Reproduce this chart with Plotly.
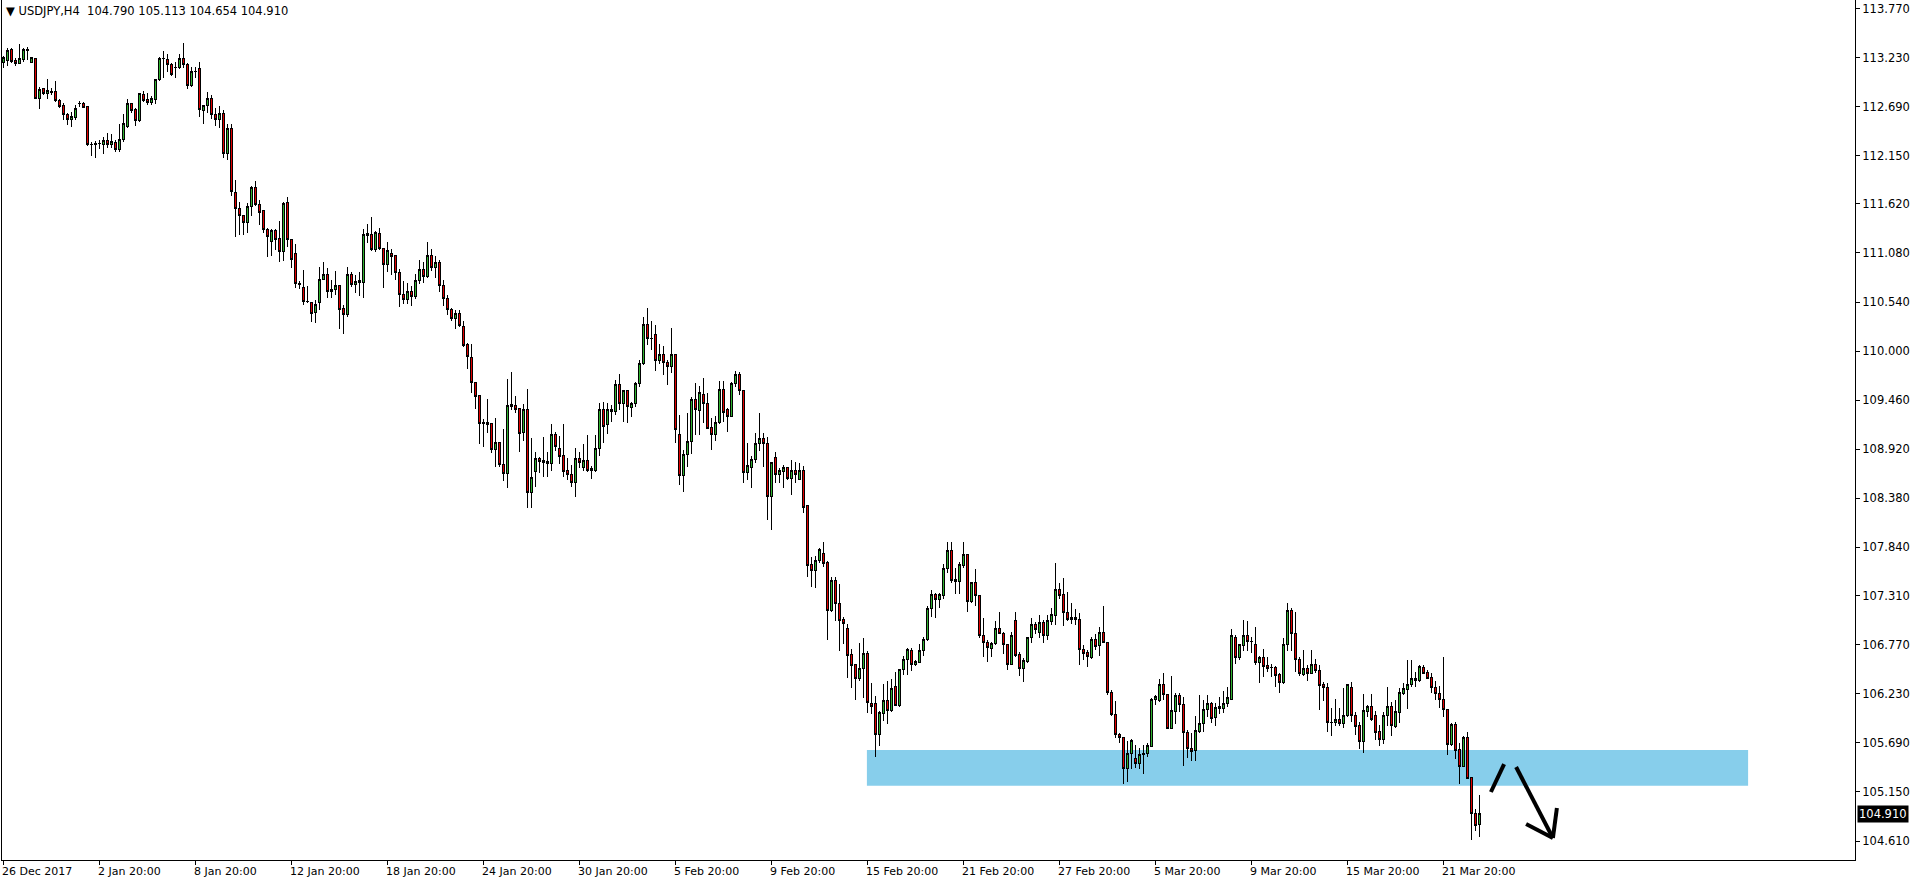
import plotly.graph_objects as go

symbol_text = "USDJPY,H4  104.790 105.113 104.654 104.910"
last_price = 104.910

opens = [
113.178,113.193,113.314,113.193,113.167,113.211,113.310,113.178,113.222,112.775,
112.888,112.837,112.862,112.855,112.753,112.698,112.606,112.551,112.569,112.720,
112.720,112.690,112.276,112.270,112.290,112.276,112.313,112.276,112.298,112.221,
112.331,112.470,112.727,112.661,112.536,112.826,112.764,112.734,112.771,112.991,
113.222,113.211,113.156,113.123,113.120,113.222,113.156,112.921,113.076,113.105,
112.650,112.700,112.780,112.600,112.550,112.620,112.170,112.450,111.748,111.572,
111.487,111.418,111.590,111.803,111.616,111.542,111.341,111.205,111.322,111.234,
111.095,111.634,111.231,111.077,110.740,110.702,110.545,110.537,110.424,110.537,
110.790,110.846,110.655,110.680,110.724,110.471,110.405,110.846,110.728,110.757,
110.757,111.297,111.278,111.121,111.297,111.132,110.956,111.077,111.047,110.868,
110.625,110.563,110.660,110.600,110.780,110.900,110.820,111.050,110.920,110.980,
110.720,110.580,110.453,110.361,110.409,110.270,110.068,109.932,109.657,109.507,
109.213,109.188,109.206,108.920,108.997,108.748,108.656,109.408,109.397,109.364,
109.103,109.353,108.447,108.674,108.821,108.792,108.784,108.766,109.085,108.931,
108.847,108.682,108.638,108.553,108.821,108.722,108.792,108.704,108.685,108.931,
109.360,109.188,109.334,109.334,109.628,109.426,109.562,109.382,109.426,109.646,
109.866,110.295,110.141,110.178,109.896,109.958,109.877,109.830,109.958,109.078,
108.630,108.865,109.004,109.463,109.345,109.518,109.426,109.162,109.078,109.213,
109.573,109.353,109.280,109.646,109.738,109.562,108.667,108.722,108.803,108.979,
109.040,108.986,108.399,108.832,108.645,108.674,108.722,108.601,108.682,108.590,
108.682,108.297,107.647,107.585,107.691,107.776,107.673,107.145,107.471,107.225,
107.042,106.943,106.657,106.547,106.400,106.510,106.668,106.118,106.118,105.784,
106.015,106.151,106.045,106.309,106.100,106.492,106.609,106.705,106.554,106.576,
106.701,106.829,107.171,107.317,107.269,107.310,107.611,107.801,107.482,107.464,
107.640,107.757,107.244,107.457,107.314,106.866,106.793,106.730,106.785,106.950,
106.895,106.774,106.554,107.031,106.657,106.510,106.584,106.851,106.995,106.906,
107.013,106.866,107.024,107.090,107.372,107.325,107.126,107.072,107.072,107.050,
106.719,106.686,106.631,106.822,106.756,106.906,106.796,106.239,106.004,105.784,
105.751,105.410,105.575,105.520,105.465,105.557,105.568,105.649,106.162,106.155,
106.327,106.217,105.850,106.034,106.206,106.114,105.802,105.630,105.604,105.814,
105.905,106.052,106.125,105.968,106.089,106.070,106.125,106.169,106.851,106.628,
106.760,106.866,106.807,106.774,106.573,106.631,106.536,106.521,106.521,106.437,
106.356,106.767,107.141,106.895,106.609,106.444,106.510,106.455,106.554,106.481,
106.327,106.301,105.916,105.916,105.942,105.905,105.986,106.301,105.986,105.876,
105.704,106.034,106.089,105.986,105.814,105.729,105.986,106.089,105.869,106.023,
106.235,106.279,106.327,106.400,106.375,106.521,106.463,106.411,106.301,106.235,
106.169,106.052,105.674,105.894,105.612,105.428,105.751,105.307,104.915,104.790]

highs = [
113.250,113.340,113.340,113.222,113.376,113.332,113.343,113.241,113.230,112.910,
112.899,112.995,112.899,112.973,112.775,112.727,112.617,112.635,112.709,112.753,
112.738,112.700,112.300,112.310,112.320,112.360,112.397,112.386,112.324,112.496,
112.606,112.775,112.730,112.672,112.841,112.863,112.837,112.808,112.995,113.233,
113.303,113.270,113.175,113.186,113.270,113.395,113.167,113.123,113.123,113.178,
112.700,112.850,112.820,112.680,112.700,112.650,112.500,112.500,111.883,111.638,
111.498,111.627,111.817,111.872,111.663,111.553,111.352,111.341,111.341,111.432,
111.638,111.693,111.235,111.179,110.770,110.893,110.717,110.537,110.563,110.930,
110.978,110.912,110.783,110.882,110.724,110.508,110.923,110.868,110.838,110.868,
111.341,111.399,111.473,111.322,111.352,111.140,111.205,111.124,111.058,110.901,
110.772,110.750,110.720,110.850,111.000,110.980,111.200,111.120,111.050,111.000,
110.780,110.620,110.470,110.453,110.453,110.332,110.090,110.079,109.660,109.510,
109.254,109.474,109.210,109.268,109.000,109.144,109.694,109.775,109.507,109.370,
109.415,109.584,109.041,108.894,108.839,109.052,108.887,109.199,109.107,109.070,
109.199,108.821,108.748,108.931,108.894,108.979,109.078,108.737,109.078,109.426,
109.437,109.426,109.408,109.683,109.749,109.573,109.573,109.445,109.657,109.903,
110.380,110.471,110.332,110.288,110.075,110.061,109.903,110.259,109.960,109.298,
108.913,109.323,109.500,109.646,109.621,109.701,109.536,109.261,109.290,109.676,
109.676,109.371,109.657,109.782,109.774,109.570,108.993,108.850,109.096,109.316,
109.100,109.050,108.780,108.887,108.711,108.748,108.729,108.803,108.777,108.773,
108.737,108.300,107.739,107.746,107.838,107.897,107.695,107.519,107.519,107.438,
107.079,106.998,106.719,106.550,106.785,106.840,106.705,106.345,106.206,106.045,
106.334,106.375,106.393,106.474,106.500,106.646,106.730,106.730,106.602,106.778,
106.859,107.196,107.372,107.343,107.335,107.655,107.897,107.897,107.618,107.684,
107.897,107.768,107.460,107.600,107.320,107.061,106.822,106.796,107.031,107.126,
106.914,106.780,106.906,107.134,106.686,106.620,106.859,107.061,107.016,107.097,
107.042,107.097,107.178,107.666,107.446,107.508,107.354,107.226,107.160,107.116,
106.767,106.712,106.859,106.884,106.969,107.196,106.800,106.270,106.151,105.795,
105.759,105.711,105.729,105.667,105.630,105.667,105.685,106.180,106.217,106.389,
106.463,106.220,106.426,106.235,106.235,106.199,105.832,105.803,105.986,106.217,
106.162,106.217,106.144,106.133,106.191,106.261,106.309,106.943,106.877,106.778,
107.042,107.031,106.859,106.969,106.650,106.723,106.639,106.558,106.536,106.455,
106.848,107.226,107.171,107.134,106.631,106.712,106.547,106.712,106.609,106.547,
106.364,106.345,106.070,106.169,106.070,106.298,106.334,106.356,106.034,105.924,
106.224,106.107,106.224,106.041,105.887,106.034,106.309,106.144,106.162,106.290,
106.353,106.602,106.602,106.474,106.547,106.547,106.492,106.455,106.375,106.316,
106.639,106.059,105.905,105.924,105.685,105.766,105.813,105.310,104.962,105.113]

lows = [
113.112,113.142,113.167,113.142,113.156,113.186,113.204,113.167,112.770,112.661,
112.819,112.775,112.819,112.745,112.679,112.544,112.489,112.470,112.544,112.690,
112.672,112.260,112.150,112.120,112.220,112.166,112.232,112.232,112.188,112.188,
112.298,112.459,112.617,112.481,112.518,112.738,112.709,112.709,112.716,112.977,
113.002,113.076,113.028,113.010,113.105,113.112,112.881,112.903,113.010,112.580,
112.496,112.620,112.550,112.480,112.450,112.120,112.100,111.711,111.260,111.278,
111.278,111.304,111.487,111.601,111.388,111.297,111.040,111.047,111.113,110.985,
110.996,111.150,110.912,110.700,110.680,110.508,110.526,110.325,110.314,110.453,
110.783,110.589,110.589,110.618,110.240,110.185,110.372,110.710,110.636,110.607,
110.589,111.187,111.102,111.095,111.113,110.691,110.875,110.838,110.783,110.490,
110.515,110.520,110.500,110.570,110.740,110.750,110.800,110.880,110.800,110.650,
110.500,110.400,110.332,110.240,110.262,110.042,109.800,109.536,109.360,108.979,
108.949,109.096,108.876,108.722,108.722,108.575,108.491,109.353,109.323,108.894,
109.015,108.271,108.271,108.502,108.656,108.612,108.612,108.685,108.902,108.759,
108.619,108.583,108.509,108.399,108.711,108.682,108.667,108.590,108.674,108.850,
108.986,109.085,109.224,109.298,109.353,109.224,109.213,109.272,109.382,109.610,
109.848,110.068,110.013,109.786,109.855,109.738,109.628,109.756,108.986,108.528,
108.447,108.729,108.865,109.078,109.078,109.206,109.140,108.913,109.015,109.195,
109.224,109.107,109.272,109.610,109.518,108.546,108.583,108.491,108.773,108.905,
108.729,108.142,108.032,108.546,108.546,108.498,108.583,108.418,108.546,108.583,
108.223,107.519,107.409,107.398,107.666,107.629,106.822,107.126,107.031,106.705,
106.778,106.408,106.298,106.162,106.375,106.180,106.023,106.008,105.538,105.659,
105.931,105.898,106.034,106.100,106.089,106.437,106.437,106.481,106.536,106.573,
106.646,106.811,107.071,107.060,107.171,107.270,107.556,107.453,107.325,107.325,
107.618,107.134,107.233,107.196,106.848,106.639,106.584,106.639,106.767,106.888,
106.664,106.492,106.547,106.639,106.430,106.364,106.565,106.785,106.884,106.840,
106.785,106.822,106.987,106.987,107.270,106.980,107.031,106.995,106.987,106.547,
106.602,106.529,106.609,106.712,106.646,106.785,106.220,105.980,105.740,105.685,
105.234,105.263,105.399,105.410,105.403,105.344,105.538,105.641,106.107,106.136,
106.162,105.843,105.839,105.894,106.034,105.439,105.520,105.491,105.491,105.795,
105.814,105.979,105.913,105.876,106.004,106.023,106.089,106.162,106.554,106.602,
106.701,106.701,106.675,106.547,106.345,106.411,106.474,106.411,106.301,106.243,
106.334,106.701,106.705,106.474,106.426,106.426,106.375,106.448,106.463,106.052,
106.155,105.813,105.766,105.880,105.880,105.858,105.971,105.924,105.777,105.623,
105.582,105.971,105.935,105.722,105.656,105.678,105.876,105.766,105.850,105.913,
106.217,106.063,106.301,106.309,106.364,106.455,106.389,106.235,106.162,106.070,
105.971,105.557,105.656,105.513,105.238,105.428,105.289,104.622,104.724,104.654]

closes = [
113.230,113.303,113.186,113.164,113.215,113.314,113.318,113.230,112.775,112.881,
112.833,112.863,112.848,112.753,112.690,112.599,112.551,112.577,112.672,112.724,
112.679,112.276,112.270,112.290,112.287,112.313,112.276,112.305,112.221,112.331,
112.507,112.727,112.643,112.536,112.830,112.756,112.734,112.775,112.991,113.222,
113.215,113.156,113.039,113.120,113.222,113.156,112.921,113.076,113.073,112.661,
112.698,112.780,112.600,112.550,112.620,112.170,112.450,111.755,111.572,111.487,
111.418,111.590,111.803,111.616,111.524,111.341,111.260,111.322,111.231,111.095,
111.627,111.231,111.011,110.739,110.730,110.545,110.541,110.416,110.515,110.790,
110.846,110.655,110.680,110.724,110.460,110.405,110.846,110.735,110.765,110.772,
111.286,111.271,111.113,111.304,111.132,110.956,111.102,111.040,110.868,110.625,
110.563,110.660,110.600,110.780,110.900,110.820,111.050,110.920,110.980,110.720,
110.580,110.453,110.361,110.409,110.281,110.061,109.940,109.657,109.499,109.206,
109.206,109.213,108.920,108.993,108.748,108.656,109.400,109.389,109.360,109.096,
109.353,108.447,108.612,108.821,108.784,108.773,108.762,109.085,108.949,108.839,
108.674,108.638,108.553,108.821,108.777,108.795,108.685,108.685,108.931,109.353,
109.169,109.360,109.360,109.628,109.426,109.562,109.389,109.426,109.646,109.866,
110.295,110.141,110.138,109.896,109.958,109.874,109.830,109.958,109.140,108.630,
108.865,109.004,109.463,109.353,109.547,109.426,109.151,109.078,109.213,109.573,
109.327,109.280,109.646,109.738,109.562,108.667,108.740,108.803,108.979,109.041,
108.986,108.399,108.777,108.645,108.682,108.722,108.601,108.682,108.645,108.682,
108.278,107.640,107.585,107.691,107.812,107.666,107.145,107.471,107.225,107.035,
106.998,106.650,106.540,106.400,106.510,106.668,106.133,106.089,105.784,106.023,
106.151,106.045,106.290,106.100,106.492,106.609,106.712,106.554,106.584,106.701,
106.829,107.171,107.317,107.262,107.317,107.611,107.801,107.475,107.464,107.647,
107.765,107.244,107.457,107.306,106.866,106.793,106.741,106.785,106.950,106.895,
106.774,106.554,106.866,106.650,106.510,106.591,106.851,106.995,106.939,107.013,
106.866,107.031,107.097,107.372,107.310,107.126,107.050,107.050,107.042,106.719,
106.675,106.639,106.822,106.749,106.906,106.793,106.239,106.004,105.784,105.751,
105.410,105.575,105.711,105.465,105.557,105.568,105.656,106.162,106.199,106.327,
106.217,105.850,106.041,106.206,106.114,105.802,105.630,105.593,105.821,105.905,
106.052,106.125,105.960,106.081,106.070,106.125,106.191,106.866,106.628,106.767,
106.866,106.804,106.804,106.573,106.631,106.529,106.510,106.518,106.430,106.356,
106.767,107.141,106.895,106.609,106.448,106.510,106.455,106.554,106.481,106.320,
106.301,105.916,105.913,105.942,105.905,105.986,106.327,105.986,105.868,105.704,
106.041,106.089,105.949,105.803,105.729,105.986,106.089,105.876,106.034,106.243,
106.283,106.327,106.400,106.375,106.529,106.455,106.400,106.298,106.228,106.162,
106.052,105.674,105.894,105.604,105.428,105.751,105.300,104.915,104.779,104.910]

assert len(opens) == len(highs) == len(lows) == len(closes) == 370

bars = list(range(len(closes)))

price_ticks = [113.770, 113.230, 112.690, 112.150, 111.620, 111.080, 110.540, 110.000,
               109.460, 108.920, 108.380, 107.840, 107.310, 106.770, 106.230, 105.690,
               105.150, 104.610]
price_labels = [f"{v:.3f}" for v in price_ticks]

date_bars = [0, 24, 48, 72, 96, 120, 144, 168, 192, 216, 240, 264, 288, 312, 336, 360]
date_labels = ["26 Dec 2017", "2 Jan 20:00", "8 Jan 20:00", "12 Jan 20:00", "18 Jan 20:00",
               "24 Jan 20:00", "30 Jan 20:00", "5 Feb 20:00", "9 Feb 20:00", "15 Feb 20:00",
               "21 Feb 20:00", "27 Feb 20:00", "5 Mar 20:00", "9 Mar 20:00", "15 Mar 20:00",
               "21 Mar 20:00"]

zone_x = [215.9, 436.2]
zone_y = [105.218, 105.611]

stroke_x = [371.9, 375.2]
stroke_y = [105.149, 105.457]
arrow_shaft_x = [378.2, 387.4]
arrow_shaft_y = [105.424, 104.643]
arrow_arm1_x = [387.4, 388.4]
arrow_arm1_y = [104.643, 104.974]
arrow_arm2_x = [387.4, 380.7]
arrow_arm2_y = [104.643, 104.798]

FONT = "DejaVu Sans"
GREEN = "#2fb12f"
RED = "#e00000"

fig = go.Figure()
fig.add_trace(go.Candlestick(
    x=bars, open=opens, high=highs, low=lows, close=closes,
    increasing=dict(fillcolor=GREEN, line=dict(color="black", width=1)),
    decreasing=dict(fillcolor=RED, line=dict(color="black", width=1)),
    whiskerwidth=0, hoverinfo="skip", showlegend=False,
))

fig.add_shape(type="rect", xref="x", yref="y", x0=zone_x[0], x1=zone_x[1],
              y0=zone_y[0], y1=zone_y[1], fillcolor="#87ceeb", line=dict(width=0),
              layer="below")
for xs, ys in [(stroke_x, stroke_y), (arrow_shaft_x, arrow_shaft_y),
               (arrow_arm1_x, arrow_arm1_y), (arrow_arm2_x, arrow_arm2_y)]:
    fig.add_shape(type="line", xref="x", yref="y", x0=xs[0], y0=ys[0],
                  x1=xs[1], y1=ys[1], line=dict(color="black", width=4))

for b, lab in zip(date_bars, date_labels):
    fig.add_annotation(x=b, y=0, xref="x", yref="paper", text=lab, showarrow=False,
                       xanchor="left", yanchor="top", xshift=-3, yshift=-3,
                       font=dict(family=FONT, size=11, color="black"))

fig.add_annotation(x=0, y=1, xref="paper", yref="paper", text="▼ " + symbol_text,
                   showarrow=False, xanchor="left", yanchor="top", xshift=2, yshift=-2,
                   font=dict(family=FONT, size=11.5, color="black"))

fig.add_annotation(x=1, y=last_price, xref="paper", yref="y", text=f"{last_price:.3f}",
                   showarrow=False, xanchor="left", yanchor="middle", xshift=2,
                   bgcolor="black", borderpad=1, font=dict(family=FONT, size=11.5, color="white"))

fig.update_layout(
    width=1916, height=884,
    margin=dict(l=2, r=61, t=0, b=24),
    paper_bgcolor="white", plot_bgcolor="white",
    boxgap=0.28,
    showlegend=False,
    xaxis=dict(range=[-0.325, 462.925], showgrid=False, zeroline=False,
               rangeslider=dict(visible=False),
               tickvals=date_bars, ticktext=[""] * len(date_bars),
               ticks="outside", ticklen=4, tickcolor="black",
               showline=True, linecolor="black", linewidth=1, mirror=True),
    yaxis=dict(range=[104.401, 113.8635], side="right", showgrid=False, zeroline=False,
               tickvals=price_ticks, ticktext=price_labels,
               ticks="outside", ticklen=4, tickcolor="black",
               tickfont=dict(family=FONT, size=11.5, color="black"),
               showline=True, linecolor="black", linewidth=1, mirror=True),
)

css = ("var s=document.createElement('style');"
       "s.textContent='.boxlayer path{shape-rendering:crispEdges;}';"
       "document.head.appendChild(s);"
       "document.body.style.margin='0';document.body.style.overflow='hidden';")

fig.write_html("out.html", include_plotlyjs=True, full_html=True,
               config={"displayModeBar": False}, post_script=css)
